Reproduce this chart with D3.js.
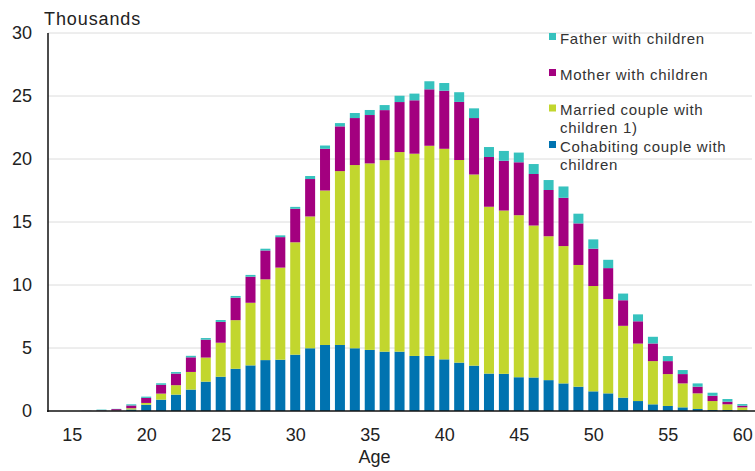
<!DOCTYPE html>
<html>
<head>
<meta charset="utf-8">
<script src="https://cdn.jsdelivr.net/npm/d3@7"></script>
<style>
  html, body { margin: 0; padding: 0; background: #fff; }
  svg { display: block; font-family: "Liberation Sans", Arial, sans-serif; }
</style>
</head>
<body>
<svg id="chart" width="755" height="471"></svg>
<script>
const ages = [15,16,17,18,19,20,21,22,23,24,25,26,27,28,29,30,31,32,33,34,35,36,37,38,39,40,41,42,43,44,45,46,47,48,49,50,51,52,53,54,55,56,57,58,59,60];
const cohabiting = [0,0,0.02,0.03,0.12,0.5,0.9,1.3,1.7,2.33,2.72,3.35,3.62,4.04,4.07,4.47,4.98,5.24,5.24,4.98,4.85,4.71,4.71,4.37,4.37,4.1,3.84,3.6,2.97,2.95,2.68,2.66,2.45,2.19,1.93,1.56,1.4,1.06,0.79,0.53,0.4,0.29,0.16,0.08,0.08,0.05];
const married = [0,0,0.01,0.02,0.1,0.14,0.48,0.75,1.4,1.91,2.7,3.86,4.97,6.41,7.31,8.92,10.46,12.26,13.8,14.54,14.8,15.2,15.84,16.05,16.68,16.71,16.08,15.17,13.24,12.96,12.86,12.06,11.42,10.9,9.66,8.36,7.49,5.7,4.56,3.43,2.53,1.9,1.24,0.71,0.45,0.24];
const mother = [0,0.01,0.03,0.1,0.22,0.4,0.7,0.92,1.16,1.42,1.65,1.78,2.07,2.29,2.42,2.66,2.97,3.31,3.55,3.73,3.84,3.97,3.97,4.24,4.48,4.61,4.61,4.48,3.95,3.95,4.2,4.09,3.67,3.83,3.3,2.96,2.45,2.03,1.77,1.4,1.03,0.74,0.53,0.42,0.21,0.13];
const father = [0,0.01,0.05,0.02,0.09,0.1,0.12,0.12,0.12,0.13,0.15,0.14,0.14,0.14,0.14,0.15,0.24,0.26,0.26,0.4,0.4,0.4,0.5,0.53,0.64,0.61,0.77,0.77,0.79,0.78,0.77,0.79,0.79,0.9,0.77,0.74,0.66,0.53,0.55,0.53,0.4,0.32,0.26,0.24,0.21,0.13];
const seriesKeys = ["cohabiting","married","mother","father"];
const seriesNames = {
  father: ["Father with children"],
  mother: ["Mother with children"],
  married: ["Married couple with", "children 1)"],
  cohabiting: ["Cohabiting couple with", "children"]
};
const seriesColors = {cohabiting:"#0073B0", married:"#C2D62E", mother:"#A3007F", father:"#36C2BE"};
const legendOrder = ["father","mother","married","cohabiting"];
const yTicks = [0,5,10,15,20,25,30];
const xTicks = [15,20,25,30,35,40,45,50,55,60];

const rows = ages.map((a,i) => ({age:a, cohabiting:cohabiting[i], married:married[i], mother:mother[i], father:father[i]}));

const svg = d3.select("#chart");
const x = d3.scaleLinear().domain([13.5, 60.5]).range([49.3, 749.8]);
const y = d3.scaleLinear().domain([0, 30]).range([411, 33]);
const barW = 10;
const FONT = "Liberation Sans, Arial, sans-serif";

// gridlines
svg.append("g").selectAll("line").data(yTicks.filter(d => d > 0)).join("line")
  .attr("x1", 48).attr("x2", 752)
  .attr("y1", d => y(d)).attr("y2", d => y(d))
  .attr("stroke", "#dcdcdc").attr("stroke-width", 1);

// bars
const stack = d3.stack().keys(seriesKeys)(rows);
svg.append("g").selectAll("g").data(stack).join("g")
  .attr("fill", s => seriesColors[s.key])
  .selectAll("rect").data(s => s).join("rect")
  .attr("x", d => x(d.data.age) - barW/2)
  .attr("width", barW)
  .attr("y", d => y(d[1]))
  .attr("height", d => Math.max(0, y(d[0]) - y(d[1])));

// axes
const yAxis = d3.axisLeft(y).tickValues(yTicks).tickSize(0).tickPadding(16);
const gy = svg.append("g").attr("transform", "translate(48,0)").call(yAxis);
gy.select(".domain").remove();
gy.selectAll("text").attr("font-size", 18).attr("fill", "#222").attr("font-family", FONT);

const xAxis = d3.axisBottom(x).tickValues(xTicks).tickSize(0).tickPadding(17);
const gx = svg.append("g").attr("transform", "translate(0,411)").call(xAxis);
gx.select(".domain").remove();
gx.selectAll("text").attr("font-size", 18).attr("fill", "#222").attr("font-family", FONT);

svg.append("line").attr("x1", 48).attr("x2", 48).attr("y1", 33).attr("y2", 412)
  .attr("stroke", "#111").attr("stroke-width", 1.5);
svg.append("line").attr("x1", 47).attr("x2", 755).attr("y1", 411).attr("y2", 411)
  .attr("stroke", "#111").attr("stroke-width", 1.5);

svg.append("text").attr("x", 44).attr("y", 25).attr("font-size", 18).attr("letter-spacing", 0.9)
  .attr("fill", "#222").attr("font-family", FONT).text("Thousands");
svg.append("text").attr("x", 374.5).attr("y", 463).attr("text-anchor", "middle").attr("font-size", 18)
  .attr("fill", "#222").attr("font-family", FONT).text("Age");

// legend
const legendY = {father: 43.5, mother: 79.5, married: 115, cohabiting: 151.5};
const lg = svg.append("g");
legendOrder.forEach(k => {
  const by = legendY[k];
  lg.append("rect").attr("x", 549).attr("y", by - 10.5).attr("width", 7).attr("height", 7).attr("fill", seriesColors[k]);
  seriesNames[k].forEach((t, j) => {
    lg.append("text").attr("x", 560).attr("y", by + j*18).attr("font-family", FONT)
      .attr("font-size", 15).attr("letter-spacing", 0.7).attr("fill", "#333").text(t);
  });
});
</script>
</body>
</html>
